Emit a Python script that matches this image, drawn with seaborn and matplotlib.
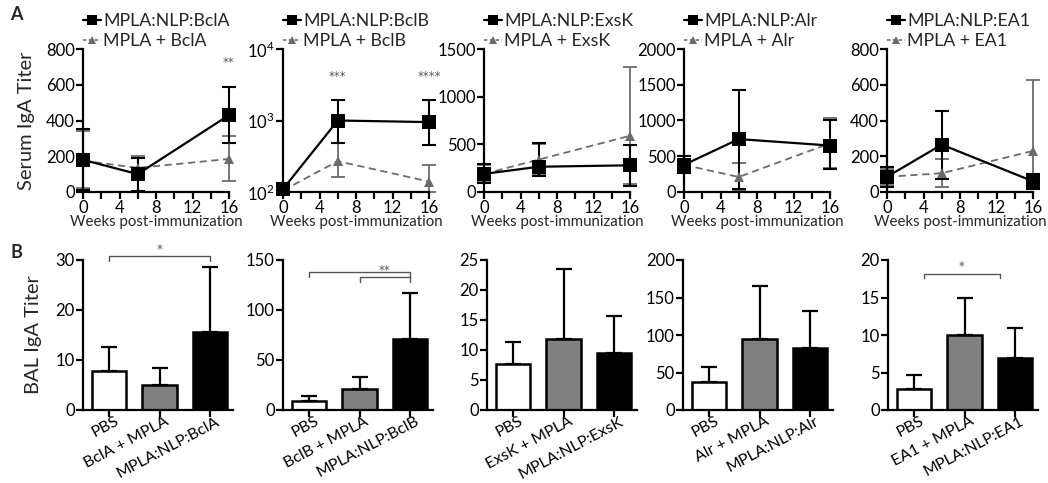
import numpy as np
import pandas as pd
import matplotlib
matplotlib.use("Agg")
import matplotlib.pyplot as plt
import matplotlib.transforms as mtransforms
import seaborn as sns
from matplotlib.lines import Line2D

sns.set_theme(style="ticks")
plt.rcParams['font.family'] = ['Lato', 'DejaVu Sans']
plt.rcParams['mathtext.fontset'] = 'custom'
plt.rcParams['mathtext.rm'] = 'Lato'

# ---------------- data ----------------
weeks = [0, 6, 16]
antigens = ["BclA", "BclB", "ExsK", "Alr", "EA1"]

nlp_mean = {"BclA": [180, 100, 430], "BclB": [110, 1000, 950], "ExsK": [190, 265, 280],
            "Alr": [380, 740, 650], "EA1": [85, 265, 60]}
nlp_lo = {"BclA": [10, 5, 275], "BclB": [100, 480, 450], "ExsK": [90, 165, 60],
          "Alr": [270, 40, 320], "EA1": [30, 75, 15]}
nlp_hi = {"BclA": [350, 190, 585], "BclB": [125, 1950, 1950], "ExsK": [290, 515, 495],
          "Alr": [500, 1430, 1010], "EA1": [140, 455, 100]}

mix_mean = {"BclA": [175, 135, 185], "BclB": [105, 270, 140], "ExsK": [190, 340, 590],
            "Alr": [380, 210, 680], "EA1": [85, 105, 230]}
mix_lo = {"BclA": [20, 70, 60], "BclB": [100, 160, 100], "ExsK": [110, 180, 80],
          "Alr": [290, 30, 340], "EA1": [40, 30, 20]}
mix_hi = {"BclA": [340, 200, 315], "BclB": [115, 480, 240], "ExsK": [280, 500, 1310],
          "Alr": [460, 410, 1040], "EA1": [130, 185, 625]}

serum_ylim = {"BclA": (0, 800), "BclB": (100, 10000), "ExsK": (0, 1500), "Alr": (0, 2000), "EA1": (0, 800)}
serum_yticks = {"BclA": [0, 200, 400, 600, 800], "BclB": [100, 1000, 10000],
                "ExsK": [0, 500, 1000, 1500], "Alr": [0, 500, 1000, 1500, 2000],
                "EA1": [0, 200, 400, 600, 800]}
serum_stars = {"BclA": [(16, 727, "**")], "BclB": [(6, 4070, "***"), (16, 4070, "****")]}

bal_mean = {"BclA": [7.9, 5.0, 15.6], "BclB": [9, 21.5, 71], "ExsK": [7.6, 11.9, 9.5],
            "Alr": [38, 95, 83], "EA1": [2.8, 10, 7]}
bal_top = {"BclA": [12.6, 8.5, 28.6], "BclB": [14, 33, 117], "ExsK": [11.4, 23.5, 15.7],
           "Alr": [57, 166, 132], "EA1": [4.7, 15, 11]}
bal_ylim = {"BclA": 30, "BclB": 150, "ExsK": 25, "Alr": 200, "EA1": 20}
bal_step = {"BclA": 10, "BclB": 50, "ExsK": 5, "Alr": 50, "EA1": 5}
# significance brackets: (x0, x1, y, label)
bal_brackets = {"BclA": [(0, 2, 30.8, "*")],
                "BclB": [(0, 2, 138, ""), (1, 2, 133, "**")],
                "EA1": [(0.2, 1.7, 18.2, "*")]}

W, H = 1048, 483
fig = plt.figure(figsize=(W / 100, H / 100), dpi=100)

def ax_px(left, top, width, height):
    return fig.add_axes([left / W, 1 - (top + height) / H, width / W, height / H])

LW = 1.6
GRAY = "#6b6b6b"
FS = 12
top_lefts = [83, 283, 484, 684, 887]
bot_lefts = [83, 283, 487, 683, 888]

def style_axis(ax):
    sns.despine(ax=ax)
    for s in ["left", "bottom"]:
        ax.spines[s].set_linewidth(LW)
        ax.spines[s].set_color("black")
    ax.tick_params(axis="both", width=LW, length=5, color="black", labelsize=FS, pad=1,
                   labelcolor="black")
    ax.set_facecolor("none")
    ax.grid(False)

# ---------------- row A ----------------
for i, ag in enumerate(antigens):
    ax = ax_px(top_lefts[i], 49, 146, 143)
    df_n = pd.DataFrame({"week": weeks, "titer": nlp_mean[ag]})
    df_m = pd.DataFrame({"week": weeks, "titer": mix_mean[ag]})
    m = np.array(mix_mean[ag]); lo = np.array(mix_lo[ag]); hi = np.array(mix_hi[ag])
    ax.errorbar(weeks, m, yerr=[m - lo, hi - m], fmt="none", ecolor=GRAY, elinewidth=1.3,
                capsize=5, capthick=1.3, clip_on=False, zorder=2)
    n = np.array(nlp_mean[ag]); lo = np.array(nlp_lo[ag]); hi = np.array(nlp_hi[ag])
    ax.errorbar(weeks, n, yerr=[n - lo, hi - n], fmt="none", ecolor="black", elinewidth=1.5,
                capsize=5, capthick=1.5, clip_on=False, zorder=3)
    sns.lineplot(data=df_m, x="week", y="titer", ax=ax, color=GRAY, linestyle=(0, (4, 2.5)),
                 linewidth=1.3, marker="^", markersize=7.5, markeredgewidth=0, markerfacecolor=GRAY,
                 clip_on=False, zorder=4, legend=False)
    sns.lineplot(data=df_n, x="week", y="titer", ax=ax, color="black", linewidth=1.6,
                 marker="s", markersize=9.5, markeredgewidth=0, markerfacecolor="black",
                 clip_on=False, zorder=5, legend=False)
    if ag == "BclB":
        ax.set_yscale("log")
        ax.set_yticks(serum_yticks[ag])
        ax.set_yticklabels([r"10$^{2}$", r"10$^{3}$", r"10$^{4}$"])
        ax.yaxis.set_minor_locator(matplotlib.ticker.NullLocator())
    else:
        ax.set_yticks(serum_yticks[ag])
    ax.set_ylim(*serum_ylim[ag])
    ax.set_xlim(0, 16)
    ax.set_xticks(range(0, 17, 2))
    ax.set_xticklabels([str(v) if v % 4 == 0 else "" for v in range(0, 17, 2)])
    ax.set_xlabel("Weeks post-immunization", fontsize=10.8, labelpad=-1)
    ax.set_ylabel("Serum IgA Titer" if i == 0 else "", fontsize=14.5, labelpad=8)
    style_axis(ax)
    for x, y, s in serum_stars.get(ag, []):
        ax.text(x, y, s, ha="center", va="center", fontsize=8.5, color="#555555",
                family="DejaVu Sans")
    handles = [Line2D([], [], color="black", lw=1.6, marker="s", markersize=7, markeredgewidth=0),
               Line2D([], [], color=GRAY, lw=1.2, ls=(0, (2, 1.5)), marker="^", markersize=6,
                      markeredgewidth=0)]
    ax.legend(handles, [f"MPLA:NLP:{ag}", f"MPLA + {ag}"], loc="lower left",
              bbox_to_anchor=(0.0, 1.0), frameon=False, fontsize=12.8, handlelength=1.0,
              handletextpad=0.15, labelspacing=0.2, borderpad=0, borderaxespad=0)

# ---------------- row B ----------------
colors = ["white", "#808080", "black"]
shift = mtransforms.ScaledTranslation(5 / 100, 0, fig.dpi_scale_trans)
for i, ag in enumerate(antigens):
    ax = ax_px(bot_lefts[i], 260, 150, 150)
    groups = ["PBS", f"{ag} + MPLA", f"MPLA:NLP:{ag}"]
    df = pd.DataFrame({"group": groups, "titer": bal_mean[ag]})
    sns.barplot(data=df, x="group", y="titer", hue="group", palette=colors, ax=ax,
                width=0.68, edgecolor="black", linewidth=1.8, legend=False, errorbar=None)
    mv = np.array(bal_mean[ag]); tv = np.array(bal_top[ag])
    ax.errorbar(range(3), mv, yerr=[np.zeros(3), tv - mv], fmt="none", ecolor="black",
                elinewidth=1.6, capsize=5.5, capthick=1.6, zorder=1)
    ax.set_xlim(-0.52, 2.46)
    ax.set_ylim(0, bal_ylim[ag])
    ax.set_yticks(np.arange(0, bal_ylim[ag] + 0.1, bal_step[ag]))
    ax.set_xlabel("")
    ax.set_ylabel("BAL IgA Titer" if i == 0 else "", fontsize=14.5, labelpad=10)
    style_axis(ax)
    ax.set_xticks(range(3))
    ax.set_xticklabels(groups, rotation=28, ha="right", va="top", rotation_mode="anchor",
                       fontsize=11.5)
    ax.tick_params(axis="x", pad=-2)
    for lab in ax.get_xticklabels():
        lab.set_transform(lab.get_transform() + shift)
    for x0, x1, y, s in bal_brackets.get(ag, []):
        d = bal_ylim[ag] * 0.03
        ax.plot([x0, x0, x1, x1], [y - d, y, y, y - d], color="#555555", lw=1.0, clip_on=False)
        if s:
            ax.text((x0 + x1) / 2 if ag != "BclB" else 1.5, y + d * 0.1, s, ha="center",
                    va="bottom", fontsize=8.5, color="#555555", family="DejaVu Sans")

fig.text(10 / W, 1 - 15 / H, "A", fontsize=13, fontweight="bold", va="center", ha="left")
fig.text(10 / W, 1 - 253 / H, "B", fontsize=13, fontweight="bold", va="center", ha="left")

fig.savefig("out.png", dpi=100, facecolor="white")
